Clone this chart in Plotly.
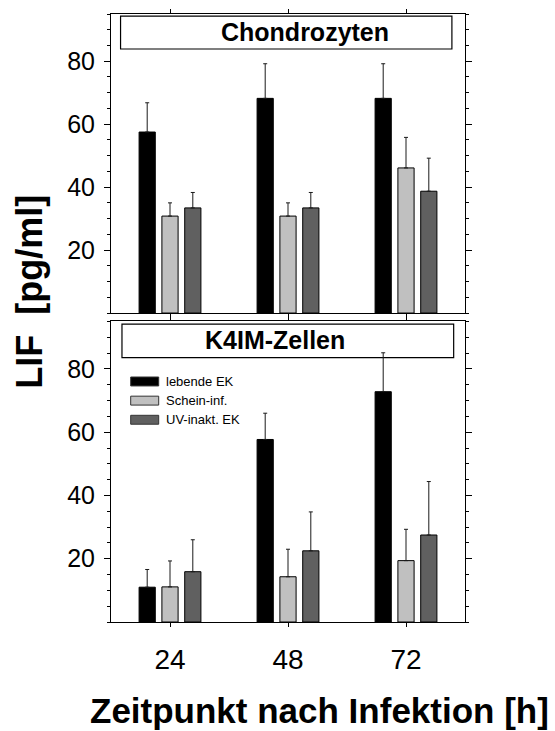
import plotly.graph_objects as go

timepoints = ["24", "48", "72"]
series_names = ["lebende EK", "Schein-inf.", "UV-inakt. EK"]
series_colors = ["#000000", "#c0c0c0", "#606060"]

# Chondrozyten (top panel)
chondro_means = [
    [57.5, 68.2, 68.2],   # lebende EK
    [30.8, 30.8, 46.1],   # Schein-inf.
    [33.4, 33.4, 38.7],   # UV-inakt. EK
]
chondro_err = [
    [9.3, 11.0, 11.0],
    [4.2, 4.2, 9.7],
    [4.9, 4.9, 10.5],
]

# K4IM-Zellen (bottom panel)
k4im_means = [
    [11.0, 57.7, 72.8],
    [11.1, 14.3, 19.4],
    [15.9, 22.5, 27.5],
]
k4im_err = [
    [5.6, 8.3, 12.3],
    [8.2, 8.7, 9.9],
    [10.1, 12.3, 16.9],
]

panel_titles = ["Chondrozyten", "K4IM-Zellen"]
y_tickvals = [20, 40, 60, 80]
y_title = "LIF \u00a0[pg/ml]"
x_title = "Zeitpunkt nach Infektion [h]"

FONT = "Liberation Sans, Arial, sans-serif"

fig = go.Figure()

for panel, (means, errs) in enumerate([(chondro_means, chondro_err), (k4im_means, k4im_err)]):
    xa = "x" if panel == 0 else "x2"
    ya = "y" if panel == 0 else "y2"
    for i in range(3):
        fig.add_trace(go.Bar(
            x=timepoints, y=means[i], name=series_names[i],
            marker=dict(color=series_colors[i], line=dict(color="#000000", width=1)),
            error_y=dict(type="data", array=errs[i], arrayminus=[0] * 3, symmetric=False,
                         color="#1a1a1a", thickness=1, width=2),
            xaxis=xa, yaxis=ya, showlegend=False, offsetgroup=str(i),
        ))

W, H = 555, 731
ml, mr, mt, mb = 111, 90, 9, 109
ph = H - mt - mb  # 613
top_dom = [(622 - 310.5) / ph, 1.0]
bot_dom = [0.0, (622 - 319) / ph]

axis_common = dict(showline=True, linecolor="#000000", linewidth=1, mirror="ticks")
yaxis_common = dict(
    axis_common, range=[0, 95], tickmode="array", tickvals=y_tickvals,
    ticks="outside", ticklen=6, tickwidth=1, tickcolor="#000000",
    minor=dict(tick0=0, dtick=5, ticks="outside", ticklen=3, tickcolor="#000000"),
    showgrid=False, zeroline=False,
    tickfont=dict(family=FONT, size=25, color="#000000"), ticklabelstandoff=4,
)
xaxis_common = dict(
    axis_common, type="category", range=[-0.5, 2.5], ticks="outside", ticklen=4,
    tickcolor="#000000", showgrid=False, zeroline=False,
)

fig.update_layout(
    width=W, height=H, margin=dict(l=ml, r=mr, t=mt, b=mb),
    paper_bgcolor="white", plot_bgcolor="white",
    barmode="group", bargap=0.42, bargroupgap=0.29,
    showlegend=False,
    xaxis=dict(xaxis_common, domain=[0, 1], anchor="y", showticklabels=False),
    yaxis=dict(yaxis_common, domain=top_dom, anchor="x"),
    xaxis2=dict(xaxis_common, domain=[0, 1], anchor="y2", showticklabels=True,
                tickfont=dict(family=FONT, size=28, color="#000000"), ticklabelstandoff=8),
    yaxis2=dict(yaxis_common, domain=bot_dom, anchor="x2"),
)

shapes = []
annotations = []

# panel title boxes
title_boxes = [
    dict(xr="x domain", yr="y domain", x0=0.027, x1=0.963, y0=0.883, y1=0.993, tx=0.547, ty=0.94),
    dict(xr="x2 domain", yr="y2 domain", x0=0.031, x1=0.968, y0=0.880, y1=0.991, tx=0.462, ty=0.937),
]
for t, b in zip(panel_titles, title_boxes):
    shapes.append(dict(type="rect", xref=b["xr"], yref=b["yr"], x0=b["x0"], x1=b["x1"],
                       y0=b["y0"], y1=b["y1"], line=dict(color="#000000", width=1.2),
                       fillcolor="white", layer="below"))
    annotations.append(dict(text="<b>" + t + "</b>", xref=b["xr"], yref=b["yr"], x=b["tx"], y=b["ty"],
                            showarrow=False, xanchor="center", yanchor="middle",
                            font=dict(family=FONT, size=25, color="#000000")))

# custom legend inside bottom panel
bot_h = 303.0
for i, (nm, col) in enumerate(zip(series_names, series_colors)):
    cy = 379.5 + 19.3 * i
    y0 = (622 - (cy + 4.5)) / bot_h
    y1 = (622 - (cy - 4.5)) / bot_h
    shapes.append(dict(type="rect", xref="x2 domain", yref="y2 domain",
                       x0=(130.7 - ml) / 354, x1=(158.7 - ml) / 354, y0=y0, y1=y1,
                       fillcolor=col, line=dict(color="#333333", width=1), layer="above"))
    annotations.append(dict(text=nm, xref="x2 domain", yref="y2 domain",
                            x=(164 - ml) / 354, y=(622 - cy) / bot_h, showarrow=False,
                            xanchor="left", yanchor="middle",
                            font=dict(family=FONT, size=13, color="#000000")))

# axis titles
annotations.append(dict(text="<b>" + x_title + "</b>", xref="paper", yref="paper",
                        x=(319 - ml) / 354, y=(622 - 711) / ph, showarrow=False,
                        xanchor="center", yanchor="middle",
                        font=dict(family=FONT, size=35, color="#000000")))
annotations.append(dict(text="<b>" + y_title + "</b>", xref="paper", yref="paper",
                        x=(30 - ml) / 354, y=(622 - 289) / ph, showarrow=False, textangle=-90,
                        xanchor="center", yanchor="middle",
                        font=dict(family=FONT, size=36, color="#000000")))

fig.update_layout(shapes=shapes, annotations=annotations)
fig.write_html("out.html")
